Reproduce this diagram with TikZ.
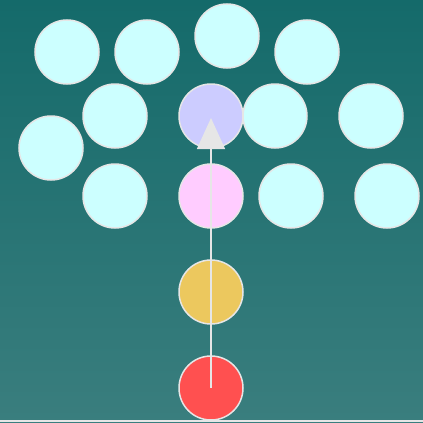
\documentclass[tikz,border=0pt]{standalone}
\usetikzlibrary{arrows.meta}
\definecolor{bgtop}{HTML}{146A6A}
\definecolor{bgbot}{HTML}{3A7E7E}
\definecolor{rim}{HTML}{E6E6E6}
\definecolor{ballcyan}{HTML}{CCFFFF}
\definecolor{balllav}{HTML}{CCCCFF}
\definecolor{ballpink}{HTML}{FFCCFF}
\definecolor{ballgold}{HTML}{ECC85E}
\definecolor{ballred}{HTML}{FF5050}
\tikzset{
  % one bubble
  ball/.style={
    circle, draw=rim, line width=1.5pt, fill=ballcyan,
    minimum size=64pt, inner sep=0pt
  },
  % the aiming line
  aim/.style={
    draw=rim, line width=1.5pt,
    -{Triangle[width=28pt, length=31pt]}
  }
}
\begin{document}
\begin{tikzpicture}[x=1pt, y=-1pt]

% background
\shade[top color=bgtop, bottom color=bgbot] (0,0) rectangle (423,423);
\useasboundingbox (0,0) rectangle (423,423);

% ============================================================
% bubbles
% ============================================================
\node[ball] (b1) at (67,52)  {};
\node[ball] (b2) at (147,52) {};
\node[ball] (b3) at (227,36) {};
\node[ball] (b4) at (307,52) {};

\node[ball] (c1) at (115,116) {};
\node[ball, fill=balllav] (target) at (211,116) {};
\node[ball] (c3) at (275,116) {};
\node[ball] (c4) at (371,116) {};
\node[ball] (c0) at (51,148) {};

\node[ball] (d1) at (115,196) {};
\node[ball, fill=ballpink] (hit) at (211,196) {};
\node[ball] (d3) at (291,196) {};
\node[ball] (d4) at (387,196) {};

% ============================================================
% shooter
% ============================================================
\node[ball, fill=ballgold] (next) at (211,292) {};
\node[ball, fill=ballred]  (shot) at (211,388) {};

\coordinate (tip) at (211,118);
\draw[aim] (shot.center) -- (tip);

% floor
\coordinate (floorL) at (0,421);
\coordinate (floorR) at (423,421);
\draw[rim, line width=1.5pt] (floorL) -- (floorR);

\end{tikzpicture}
\end{document}
